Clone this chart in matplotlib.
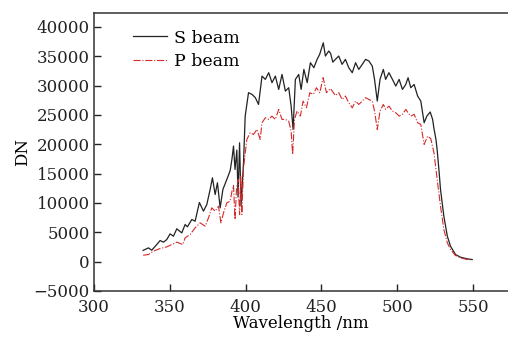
import numpy as np
import matplotlib
matplotlib.use("Agg")
import matplotlib.pyplot as plt

# S beam
wl_s = [332.4, 335.9, 338.1, 341.4, 343.6, 345.8, 348, 350.2, 352.4, 354.6, 357.9, 360.1, 361.6,
        364.5, 366.7, 369.5, 372.2, 374.4, 376.6, 378.1, 379.9, 381.4, 383.2, 385, 387.6, 389.8,
        391, 392, 393, 394.2, 395, 396, 397, 398.6, 399.7, 401.9, 404.2, 406.4, 408.5, 410.8,
        413, 415.2, 417.4, 419.6, 421.8, 424, 426.2, 428.4, 430, 431.3, 432.8, 435, 436.6,
        438.4, 440.6, 442.7, 445, 447.1, 448.8, 451.2, 452.6, 454.8, 456, 457.5, 459.3, 461.4,
        463.6, 465.8, 468, 470.3, 472.5, 474.6, 476.9, 479.1, 481.3, 483.5, 485, 486.8, 488.6,
        490.8, 492.3, 494.5, 496.8, 499, 501.2, 503.4, 505.6, 507.1, 508.9, 511.1, 513.4,
        515.5, 517.7, 519.5, 521.7, 523.3, 524.1, 525.5, 526.3, 527.5, 528.5, 530.7, 533,
        535.1, 538.4, 541.7, 546.1, 549.4]
dn_s = [1900, 2330, 1930, 2900, 3580, 3300, 3750, 4720, 4320, 5580, 4890, 6310, 5920,
        7170, 6880, 10070, 8590, 9730, 12290, 14280, 11430, 13430, 9160, 12290, 14000, 15500,
        17500, 19700, 15700, 19000, 11000, 20250, 9500, 16840, 24800, 28790, 28500, 27940, 26790, 31620,
        31060, 32200, 30500, 31620, 29350, 31910, 29060, 29640, 26500, 22530, 31060, 31900, 29350,
        32760, 30500, 33900, 33050, 34470, 35320, 37300, 35040, 35900, 35500, 34000, 34500, 35040,
        33620, 34470, 33050, 32200, 33900, 32760, 33620, 34470, 34190, 33330, 31060, 27360, 31060,
        32760, 31060, 32200, 31060, 29920, 31060, 29350, 30200, 31340, 29640, 30200, 28220,
        27360, 23670, 24800, 25500, 24230, 22800, 20820, 19000, 15500, 12290, 7730, 4320,
        2610, 1190, 740, 460, 340]

# P beam
wl_p = [332.4, 335.9, 339.2, 343.6, 348, 351.3, 354.6, 358.6, 360.1, 363.4, 366.7, 370, 373.3,
        375.5, 377.7, 379.9, 382.1, 383.7, 385.4, 387.6, 389.8, 391, 392, 393, 394, 395, 396,
        396.8, 397.5, 398.6, 400.8, 403, 405.2, 407.5, 409.6, 410.8, 413, 415.2, 417.3, 419.6,
        421.8, 424, 426.2, 428.4, 430, 431, 432.2, 433.9, 436.1, 437.9, 440.1, 442.3, 444.6,
        446.7, 448.9, 451.1, 453.3, 455.9, 459.2, 461.4, 463.6, 465.8, 468, 470.3, 472.5,
        474.6, 476.9, 479.1, 481.3, 483.5, 485, 486.8, 488.6, 490.8, 492.3, 494.5, 496.8, 499,
        501.2, 503.4, 505.6, 507.1, 508.9, 511.1, 513.4, 515.5, 517.7, 520, 522.1, 524.2,
        526.3, 528.5, 530.7, 533, 535.1, 538.4, 541.7, 546.1, 549.4]
dn_p = [1080, 1190, 1760, 2220, 2500, 2900, 3300, 2900, 4040, 4610, 5750, 6600, 6030,
        7450, 9160, 8590, 9440, 6600, 8300, 10010, 10300, 12000, 13000, 7170, 12500, 14000, 8000,
        14500, 8020, 15990, 20820, 21960, 21670, 22530, 20820, 23670, 24520, 24230, 24800, 24230,
        25940, 24230, 24230, 23950, 22240, 18260, 24230, 25660, 24800, 27360, 26220, 28790, 28500,
        29640, 28790, 31350, 28790, 29500, 28300, 28790, 27640, 28220, 27080, 26220, 27360,
        26790, 27360, 27940, 27640, 27360, 25650, 22530, 25650, 26790, 25940, 26500, 25650, 25370,
        24800, 25090, 25940, 25370, 24800, 25090, 23670, 23380, 19970, 21390, 20950, 18500,
        14000, 9440, 5460, 3190, 2050, 1020, 630, 340, 290]

plt.rcParams['font.family'] = 'DejaVu Serif'
plt.rcParams['font.size'] = 12

fig = plt.figure(figsize=(5.08, 3.39), dpi=100)
ax = fig.add_axes([0.185, 0.142, 0.815, 0.82])

ax.plot(wl_s, dn_s, color='#222222', lw=0.9, label='S beam')
ax.plot(wl_p, dn_p, color='#d42a2a', lw=0.8, ls='-.', label='P beam')

ax.set_xlim(300, 573)
ax.set_ylim(-5000, 42400)
ax.set_xticks([300, 350, 400, 450, 500, 550])
ax.set_yticks(np.arange(-5000, 40001, 5000))
ax.set_yticklabels(['\u22125000'] + [str(v) for v in range(0, 40001, 5000)])
ax.tick_params(direction='in', length=5, width=1, colors='#222222')
ax.tick_params(axis='x', pad=6)
ax.tick_params(axis='y', pad=3)
ax.spines['right'].set_visible(False)
for s in ['left', 'bottom', 'top']:
    ax.spines[s].set_color('#333333')
    ax.spines[s].set_linewidth(1.1)

ax.set_xlabel('Wavelength /nm', labelpad=-1)
ax.set_ylabel('DN', labelpad=2)

ax.legend(loc='upper left', bbox_to_anchor=(0.06, 0.99), frameon=False, fontsize=12.5,
          handlelength=2.0, handletextpad=0.4, labelspacing=0.35, borderpad=0.3)

fig.savefig('out.png', dpi=100)
